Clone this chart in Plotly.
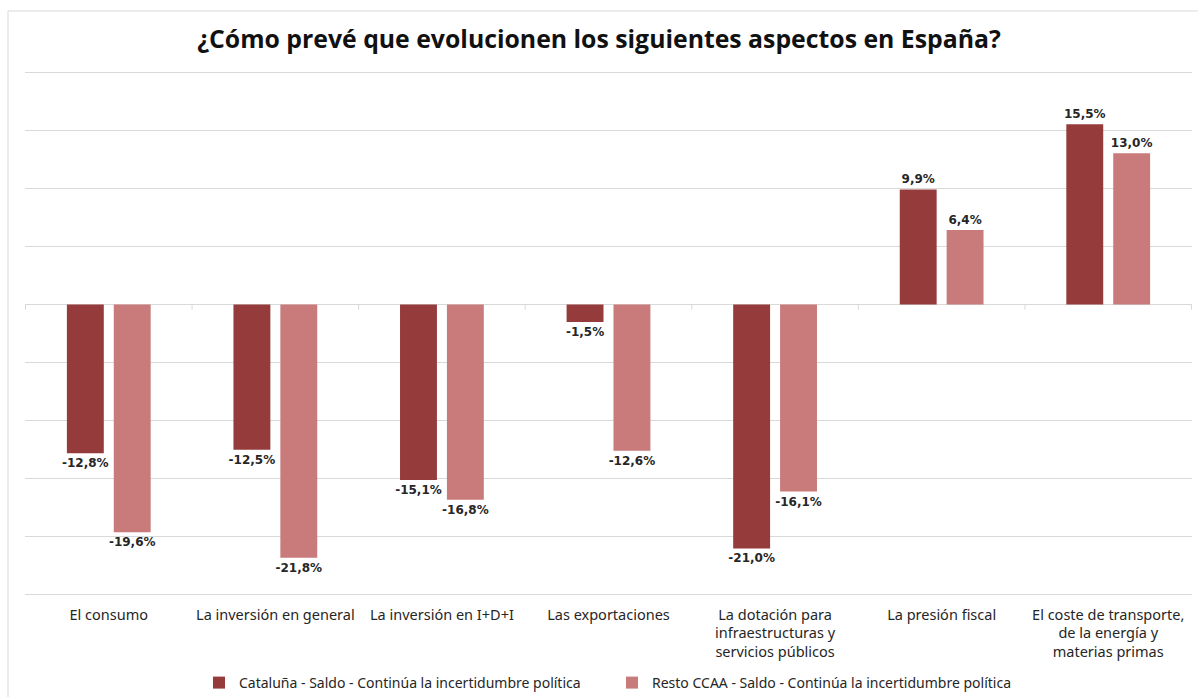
import plotly.graph_objects as go

# ─── Datos ────────────────────────────────────────────────────
categorias = [
    "El consumo",
    "La inversión en general",
    "La inversión en I+D+I",
    "Las exportaciones",
    "La dotación para<br>infraestructuras y<br>servicios públicos",
    "La presión fiscal",
    "El coste de transporte,<br>de la energía y<br>materias primas",
]
cataluna = [-12.8, -12.5, -15.1, -1.5, -21.0, 9.9, 15.5]
resto_ccaa = [-19.6, -21.8, -16.8, -12.6, -16.1, 6.4, 13.0]

serie_nombres = [
    "Cataluña - Saldo - Continúa la incertidumbre política",
    "Resto CCAA - Saldo - Continúa la incertidumbre política",
]
COLORES = ["#953B3B", "#C97B7B"]

W, H = 1198, 697
L, R, T, B = 25, 6, 69, 99


def _fmt(v):
    return f"{v:.1f}%".replace(".", ",")


fig = go.Figure()
for nombre, valores, color in zip(serie_nombres, [cataluna, resto_ccaa], COLORES):
    fig.add_trace(go.Bar(
        x=categorias,
        y=valores,
        name=nombre,
        marker=dict(color=color, line=dict(width=0)),
        text=[_fmt(v) for v in valores],
        textposition="outside",
        constraintext="none",
        cliponaxis=False,
        textfont=dict(family="DejaVu Sans", size=12, color="#262626", weight="bold"),
    ))

# marcas del eje de categorías sobre la línea de cero
shapes = []
for i in range(len(categorias) + 1):
    shapes.append(dict(
        type="line", xref="x", yref="y",
        x0=i - 0.5, x1=i - 0.5, y0=0, y1=-0.45,
        line=dict(color="#d9d9d9", width=1),
    ))
# borde exterior del gráfico
plot_w = W - L - R
plot_h = H - T - B
shapes.append(dict(
    type="line", xref="paper", yref="paper",
    x0=(8 - L) / plot_w, x1=(8 - L) / plot_w,
    y0=(H - B - H) / plot_h, y1=(H - B - 11) / plot_h,
    line=dict(color="#d9d9d9", width=1),
))
shapes.append(dict(
    type="line", xref="paper", yref="paper",
    x0=(8 - L) / plot_w, x1=(W - L) / plot_w,
    y0=(H - B - 11) / plot_h, y1=(H - B - 11) / plot_h,
    line=dict(color="#d9d9d9", width=1),
))

fig.update_layout(
    width=W,
    height=H,
    margin=dict(l=L, r=R, t=T, b=B, autoexpand=False),
    paper_bgcolor="white",
    plot_bgcolor="white",
    font=dict(family="Noto Sans", size=14, color="#262626"),
    title=dict(
        text="<b>¿Cómo prevé que evolucionen los siguientes aspectos en España?</b>",
        x=0.5, xanchor="center", y=0.944, yanchor="middle",
        font=dict(family="Open Sans", size=24.8, color="#111111"),
    ),
    barmode="group",
    bargap=0.437,
    bargroupgap=0.213,
    showlegend=True,
    legend=dict(
        orientation="h",
        x=0.503, xanchor="center",
        y=-(683 - (H - B)) / plot_h, yanchor="middle",
        font=dict(family="Noto Sans", size=14, color="#262626"),
        traceorder="normal",
        entrywidth=368,
    ),
    shapes=shapes,
)
fig.update_xaxes(
    showgrid=False,
    showline=False,
    ticks="",
    ticklabelstandoff=6,
    tickfont=dict(family="Noto Sans", size=14.5, color="#262626"),
)
fig.update_yaxes(
    range=[-25.26, 20.26],
    tickvals=[-25, -20, -15, -10, -5, 0, 5, 10, 15, 20],
    showticklabels=False,
    showgrid=True,
    gridcolor="#d9d9d9",
    gridwidth=1,
    zeroline=True,
    zerolinecolor="#d9d9d9",
    zerolinewidth=1,
    showline=False,
)

fig.write_html(
    "out.html",
    config=dict(displayModeBar=False),
    post_script="document.body.style.margin='0';",
)
